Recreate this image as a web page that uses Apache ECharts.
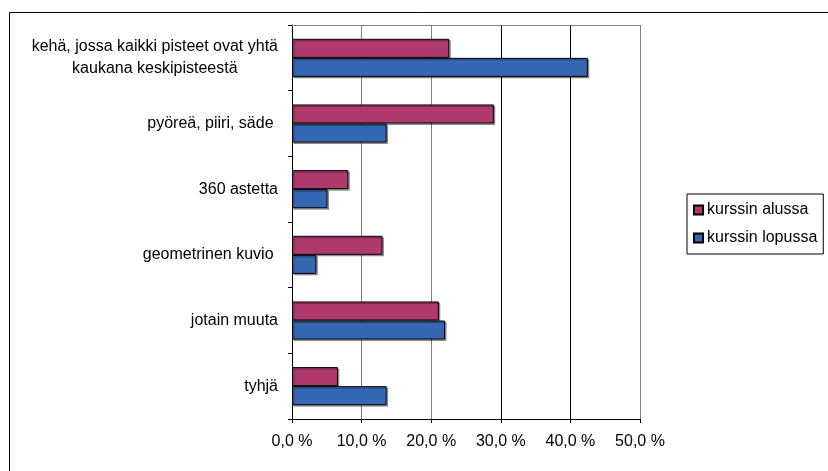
<!DOCTYPE html>
<html>
<head>
<meta charset="utf-8">
<script src="https://cdn.jsdelivr.net/npm/echarts@6/dist/echarts.min.js"></script>
<style>
  html, body { margin: 0; padding: 0; background: #fff; }
  #chart { width: 828px; height: 471px; }
</style>
</head>
<body>
<div id="chart"></div>
<script>
// kategoriat ylhäältä alas
var categories = [
  'kehä, jossa kaikki pisteet ovat yhtä\nkaukana keskipisteestä',
  'pyöreä, piiri, säde ',
  '360 astetta',
  'geometrinen kuvio ',
  'jotain muuta',
  'tyhjä'
];
var alussa = [22.6, 29.0, 8.1, 13.0, 21.1, 6.6];
var lopussa = [42.5, 13.6, 5.1, 3.5, 22.0, 13.6];
var seriesNames = ['kurssin alussa', 'kurssin lopussa'];
var xTicks = [0, 10, 20, 30, 40, 50];

var font = 'Liberation Sans, Arial, sans-serif';
var myChart = echarts.init(document.getElementById('chart'));

function pct(v) {
  return v.toFixed(1).replace('.', ',') + ' %';
}

var barStyle = function (color) {
  return {
    color: color,
    borderColor: '#000',
    borderWidth: 1,
    shadowColor: 'rgba(0,0,0,0.35)',
    shadowOffsetX: 1.5,
    shadowOffsetY: 1.5
  };
};

var option = {
  animation: false,
  backgroundColor: '#fff',
  graphic: [{
    type: 'rect',
    left: 7, top: 10,
    shape: { width: 840, height: 480 },
    style: { fill: 'none', stroke: '#000', lineWidth: 1 },
    silent: true
  }],
  grid: { left: 292, top: 25, width: 348, height: 394 },
  legend: {
    orient: 'vertical',
    left: 687, top: 194,
    width: 137,
    padding: [8, 6, 8, 6],
    itemGap: 12,
    itemWidth: 9, itemHeight: 9,
    borderColor: '#000', borderWidth: 1,
    icon: 'rect',
    textStyle: { fontFamily: font, fontSize: 16, color: '#000', padding: [0, 0, 0, -1] },
    data: seriesNames
  },
  xAxis: [{
    type: 'value',
    min: 0, max: 50, interval: 10,
    axisLine: { show: true, lineStyle: { color: '#000' } },
    axisTick: { show: true, length: 4, lineStyle: { color: '#000' } },
    splitLine: {
      show: true,
      lineStyle: { color: ['#808080', '#808080', '#808080', '#000', '#000', '#808080'], width: 1 }
    },
    axisLabel: {
      fontFamily: font, fontSize: 16, color: '#000', margin: 15,
      formatter: function (v) { return pct(v); }
    }
  }, {
    // plot area top border
    type: 'value',
    position: 'top',
    min: 0, max: 50, interval: 10,
    axisLine: { show: true, lineStyle: { color: '#808080' } },
    axisTick: { show: false },
    axisLabel: { show: false },
    splitLine: { show: false }
  }],
  yAxis: {
    type: 'category',
    inverse: true,
    data: categories,
    axisLine: { show: true, lineStyle: { color: '#000' } },
    axisTick: { show: true, length: 4, inside: false, lineStyle: { color: '#000' } },
    axisLabel: {
      fontFamily: font, fontSize: 16, color: '#000', margin: 14, lineHeight: 22,
      formatter: function (v) {
        return v.split('\n').map(function (s) { return '{c|' + s + '}'; }).join('\n');
      },
      rich: { c: { align: 'center', fontFamily: font, fontSize: 16, color: '#000', lineHeight: 22 } }
    }
  },
  series: [
    {
      name: seriesNames[0], type: 'bar', data: alussa,
      barGap: '0%', barCategoryGap: '42%',
      itemStyle: barStyle('#b0396e')
    },
    {
      name: seriesNames[1], type: 'bar', data: lopussa,
      barGap: '0%', barCategoryGap: '42%',
      itemStyle: barStyle('#3667b2')
    }
  ]
};

myChart.setOption(option);
</script>
</body>
</html>
